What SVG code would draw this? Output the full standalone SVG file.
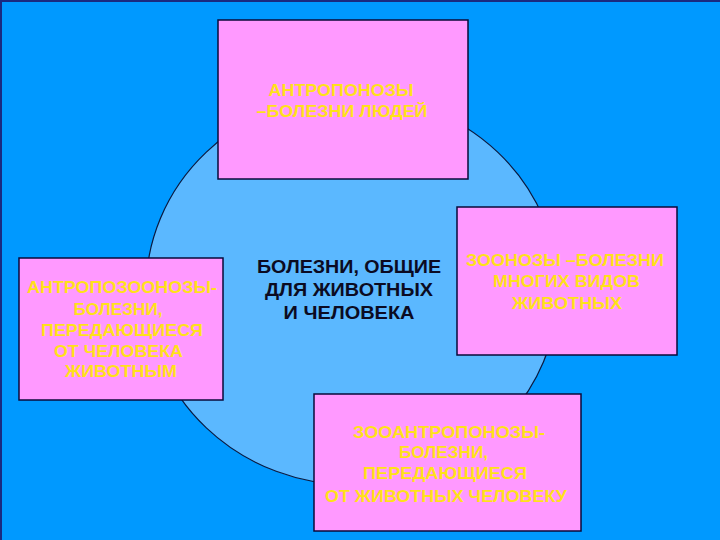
<svg xmlns="http://www.w3.org/2000/svg" width="720" height="540" viewBox="0 0 720 540">
<style>
.box{fill:#FF99FF;stroke:#0A0A3A;stroke-width:1.5}
.yt{font-family:"Liberation Sans",Arial,sans-serif;font-weight:bold;font-size:17px;fill:#FFE11A;text-anchor:middle}
.ct{font-family:"Liberation Sans",Arial,sans-serif;font-weight:bold;font-size:17.5px;fill:#0B0B22;text-anchor:middle}
</style>
<rect x="0" y="0" width="720" height="540" fill="#0099FF"/>
<path d="M1,540 V1 H720" fill="none" stroke="#1A2A80" stroke-width="2"/>
<g id="center">
<ellipse cx="352" cy="290" rx="206" ry="195" fill="#5BB8FF" stroke="#0A1A40" stroke-width="1.2"/>
<text class="ct" x="349" y="273" textLength="184" lengthAdjust="spacingAndGlyphs">БОЛЕЗНИ, ОБЩИЕ</text>
<text class="ct" x="349" y="296" textLength="168" lengthAdjust="spacingAndGlyphs">ДЛЯ ЖИВОТНЫХ</text>
<text class="ct" x="349" y="319" textLength="131" lengthAdjust="spacingAndGlyphs">И ЧЕЛОВЕКА</text>
</g>
<g id="anthroponoses">
<rect class="box" x="218" y="20" width="250" height="159"/>
<text class="yt" x="341" y="96" textLength="145" lengthAdjust="spacingAndGlyphs">АНТРОПОНОЗЫ</text>
<text class="yt" x="342" y="117" textLength="171" lengthAdjust="spacingAndGlyphs">–БОЛЕЗНИ ЛЮДЕЙ</text>
</g>
<g id="anthropozoonoses">
<rect class="box" x="19" y="258" width="204" height="142"/>
<text class="yt" x="122" y="293" textLength="190" lengthAdjust="spacingAndGlyphs">АНТРОПОЗООНОЗЫ-</text>
<text class="yt" x="118" y="315" textLength="89" lengthAdjust="spacingAndGlyphs">БОЛЕЗНИ,</text>
<text class="yt" x="122" y="336" textLength="162" lengthAdjust="spacingAndGlyphs">ПЕРЕДАЮЩИЕСЯ</text>
<text class="yt" x="118.5" y="357" textLength="129" lengthAdjust="spacingAndGlyphs">ОТ ЧЕЛОВЕКА</text>
<text class="yt" x="121" y="377" textLength="112" lengthAdjust="spacingAndGlyphs">ЖИВОТНЫМ</text>
</g>
<g id="zoonoses">
<rect class="box" x="457" y="207" width="220" height="148"/>
<text class="yt" x="565" y="266" textLength="198" lengthAdjust="spacingAndGlyphs">ЗООНОЗЫ –БОЛЕЗНИ</text>
<text class="yt" x="566.5" y="287" textLength="147" lengthAdjust="spacingAndGlyphs">МНОГИХ ВИДОВ</text>
<text class="yt" x="567" y="309" textLength="110" lengthAdjust="spacingAndGlyphs">ЖИВОТНЫХ</text>
</g>
<g id="zooanthroponoses">
<rect class="box" x="314" y="394" width="267" height="137"/>
<text class="yt" x="449" y="438" textLength="192" lengthAdjust="spacingAndGlyphs">ЗООАНТРОПОНОЗЫ-</text>
<text class="yt" x="443.5" y="458" textLength="89" lengthAdjust="spacingAndGlyphs">БОЛЕЗНИ,</text>
<text class="yt" x="445" y="479" textLength="164" lengthAdjust="spacingAndGlyphs">ПЕРЕДАЮЩИЕСЯ</text>
<text class="yt" x="446" y="502" textLength="242" lengthAdjust="spacingAndGlyphs">ОТ ЖИВОТНЫХ ЧЕЛОВЕКУ</text>
</g>
</svg>
